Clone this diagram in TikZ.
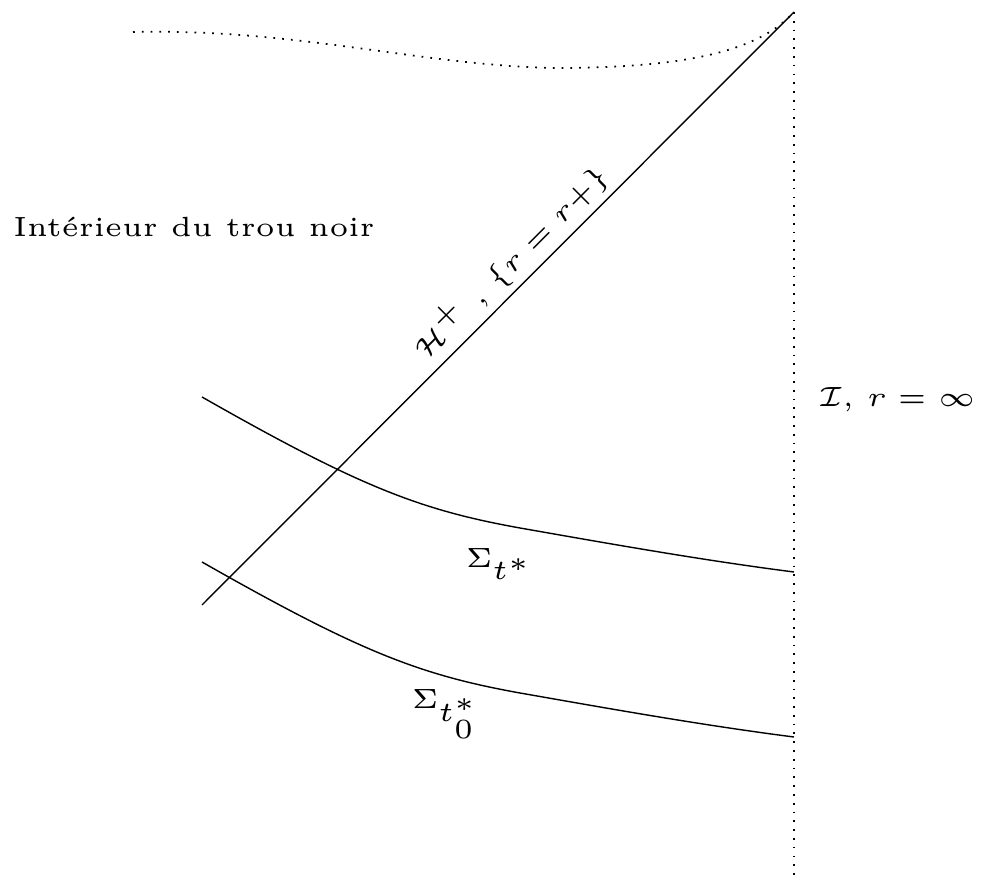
\documentclass[tikz,border=0pt]{standalone}
\usetikzlibrary{positioning,calc}
\tikzset{
  bord/.style={dotted, line width=0.5pt},
  feuille/.style={thin},
  etiquette/.style={font=\tiny, scale=1.58, inner sep=1pt}
}
\begin{document}
\begin{tikzpicture}
  \useasboundingbox (0,0) rectangle (9.84,8.80);
  \coordinate (scri) at (7.94,8.68);
  \coordinate (scribas) at (7.94,0);
  \coordinate (hbas) at (2.02,2.75);
  \coordinate (sing) at (1.33,8.48);
  \draw[bord] (scri) -- (scribas);
  \draw[bord] (sing) .. controls (3.0,8.52) and (4.3,8.12) .. (5.66,8.12) .. controls (6.9,8.13) and (7.6,8.3) .. (scri);
  \draw[feuille] (hbas) -- node[etiquette, sloped, above, pos=0.55] (horizon) {$\mathcal{H}^+$ , $\{r=r+\}$} (scri);
  % les deux feuilles, la seconde decalee vers le bas
  \draw[feuille] (2.02,4.83) .. controls (3.6,3.93) and (4.2,3.7) .. (5.2,3.52) .. controls (6.0,3.38) and (7.0,3.2) .. (7.94,3.08);
  \draw[feuille, yshift=-1.65cm] (2.02,4.83) .. controls (3.6,3.93) and (4.2,3.7) .. (5.2,3.52) .. controls (6.0,3.38) and (7.0,3.2) .. (7.94,3.08);
  \node[etiquette] (sigma) at (5.0,3.16) {$\Sigma_{t^*}$};
  \node[etiquette] (sigmazero) at (4.46,1.66) {$\Sigma_{t^*_0}$};
  \node[etiquette] (scrilabel) at (8.97,4.80) {$\mathcal{I}$, $r=\infty$};
  \node[etiquette] (interieur) at (1.94,6.53) {Intérieur du trou noir};
\end{tikzpicture}
\end{document}
